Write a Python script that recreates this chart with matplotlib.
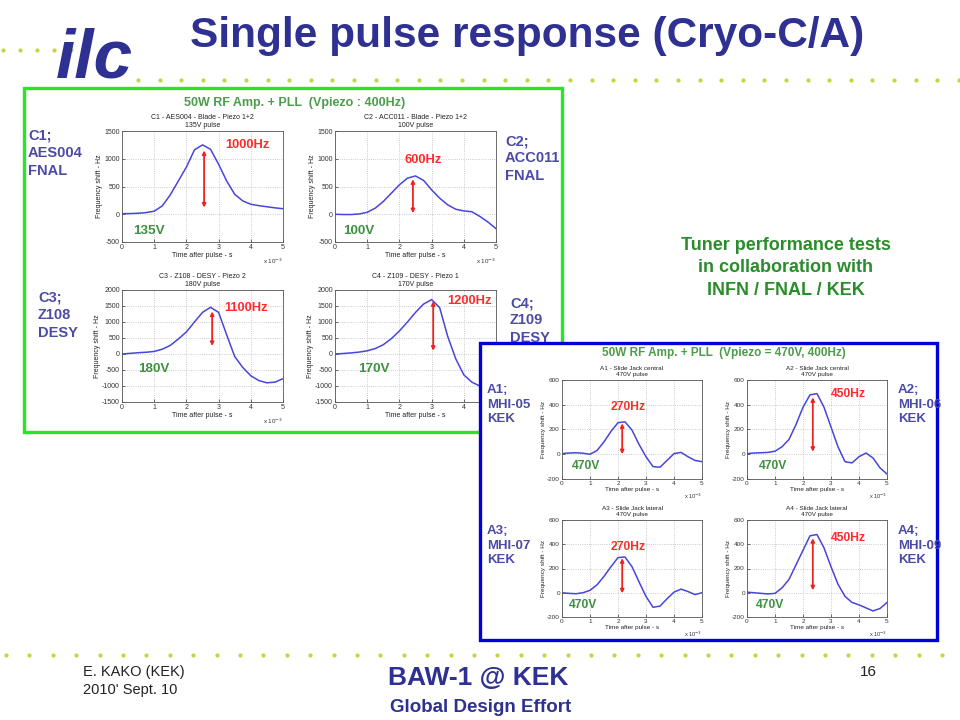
import matplotlib
matplotlib.use("Agg")
import matplotlib.pyplot as plt
from matplotlib.patches import Rectangle
import numpy as np

plt.rcParams['font.family'] = ['Liberation Sans', 'DejaVu Sans']
plt.rcParams['axes.unicode_minus'] = False

# ---------------- data ----------------
t_ms = [0.0, 0.25, 0.5, 0.75, 1.0, 1.25, 1.5, 1.75, 2.0, 2.25, 2.5,
        2.75, 3.0, 3.25, 3.5, 3.75, 4.0, 4.25, 4.5, 4.75, 5.0]

c1 = [10, 12, 18, 30, 55, 150, 350, 600, 850, 1160, 1250, 1170, 900, 600, 360, 240, 180, 155, 135, 115, 100]
c2 = [0, -5, -5, 5, 35, 110, 230, 380, 530, 650, 690, 610, 440, 290, 170, 90, 60, 45, -40, -140, -260]
c3 = [0, 20, 40, 55, 80, 150, 270, 470, 690, 1000, 1300, 1460, 1300, 600, -80, -420, -680, -830, -900, -880, -770]
c4 = [0, 15, 35, 60, 100, 170, 290, 480, 720, 1000, 1300, 1560, 1700, 1450, 550, -150, -650, -880, -1000, -1050, -1060]
a1 = [5, 10, 12, 8, 0, 30, 100, 185, 255, 262, 195, 80, -20, -100, -105, -50, 5, 15, -20, -50, -60]
a2 = [5, 10, 12, 15, 25, 60, 120, 240, 380, 480, 490, 380, 220, 60, -60, -70, -20, 10, -30, -110, -160]
a3 = [0, -5, -8, 0, 20, 65, 135, 215, 290, 295, 215, 90, -30, -120, -110, -50, 5, 30, 10, -15, 0]
a4 = [5, 0, -5, -10, -5, 40, 110, 230, 350, 470, 480, 370, 215, 70, -30, -80, -100, -125, -150, -130, -80]

series = [c1, c2, c3, c4, a1, a2, a3, a4]
titles = ["C1 - AES004 - Blade - Piezo 1+2\n135V pulse",
          "C2 - ACC011 - Blade - Piezo 1+2\n100V pulse",
          "C3 - Z108 - DESY - Piezo 2\n180V pulse",
          "C4 - Z109 - DESY - Piezo 1\n170V pulse",
          "A1 - Slide Jack central\n470V pulse",
          "A2 - Slide Jack central\n470V pulse",
          "A3 - Slide Jack lateral\n470V pulse",
          "A4 - Slide Jack lateral\n470V pulse"]
yticks_c12 = [-500, 0, 500, 1000, 1500]
yticks_c34 = [-1500, -1000, -500, 0, 500, 1000, 1500, 2000]
yticks_a = [-200, 0, 200, 400, 600]
yticks = [yticks_c12, yticks_c12, yticks_c34, yticks_c34, yticks_a, yticks_a, yticks_a, yticks_a]
xticks = [0, 1, 2, 3, 4, 5]

# arrow: x, top, bottom
arrows = [(2.55, 1150, 120), (2.42, 630, 20), (2.8, 1330, 250), (3.05, 1650, 100),
          (2.15, 250, 0), (2.35, 460, 20), (2.15, 285, -5), (2.35, 450, 20)]
shift_labels = ["1000Hz", "600Hz", "1100Hz", "1200Hz", "270Hz", "450Hz", "270Hz", "450Hz"]
shift_pos = [(3.2, 1250), (2.17, 975), (3.17, 1440), (3.5, 1650),
             (1.72, 382), (2.98, 490), (1.72, 380), (2.98, 450)]
volt_labels = ["135V", "100V", "180V", "170V", "470V", "470V", "470V", "470V"]
volt_pos = [(0.36, -310), (0.26, -310), (0.5, -480), (0.73, -480),
            (0.36, -95), (0.42, -95), (0.24, -100), (0.3, -100)]

cav_labels = ["C1;\nAES004\nFNAL", "C2;\nACC011\nFNAL", "C3;\nZ108\nDESY", "C4;\nZ109\nDESY",
              "A1;\nMHI-05\nKEK", "A2;\nMHI-06\nKEK", "A3;\nMHI-07\nKEK", "A4;\nMHI-09\nKEK"]

# ---------------- layout (pixels) ----------------
W, H = 960, 720
fig = plt.figure(figsize=(9.6, 7.2), dpi=100)
fig.patch.set_facecolor('white')

def px_axes(x0, y0, x1, y1, z):
    return fig.add_axes([x0 / W, 1 - y1 / H, (x1 - x0) / W, (y1 - y0) / H], zorder=z)

ax_bg = fig.add_axes([0, 0, 1, 1], zorder=0)
ax_bg.set_xlim(0, W); ax_bg.set_ylim(H, 0); ax_bg.axis('off')

ax_bl = fig.add_axes([0, 0, 1, 1], zorder=2)
ax_bl.set_xlim(0, W); ax_bl.set_ylim(H, 0); ax_bl.axis('off')
ax_bl.patch.set_alpha(0)

navy = '#2E3192'
dot_col = '#C4D63C'
green_txt = '#3E9140'
red_txt = '#FF2A2A'
lab_col = '#4B4BA6'

# decorative dots
xl = np.arange(3, 105, 17)
ax_bg.scatter(xl, np.full(len(xl), 50), s=9, color=dot_col, lw=0)
xs = np.arange(138, 962, 21.6)
ax_bg.scatter(xs, np.full(len(xs), 80), s=9, color=dot_col, lw=0)
xs2 = np.arange(6, 962, 23.4)
ax_bg.scatter(xs2, np.full(len(xs2), 655), s=9, color=dot_col, lw=0)

# logo and title
ax_bg.text(94, 78, "ilc", fontsize=50, fontweight='bold', style='italic', color=navy,
           ha='center', va='baseline')
ax_bg.text(527, 36, "Single pulse response (Cryo-C/A)", fontsize=30.5, fontweight='bold',
           color=navy, ha='center', va='center')

# footer
ax_bg.text(83, 672, "E. KAKO (KEK)", fontsize=10.5, color='#222222', ha='left', va='center')
ax_bg.text(83, 690, "2010' Sept. 10", fontsize=10.5, color='#222222', ha='left', va='center')
ax_bg.text(478, 678, "BAW-1 @ KEK", fontsize=19, fontweight='bold', color=navy, ha='center', va='center')
ax_bg.text(481, 707, "Global Design Effort", fontsize=13.5, fontweight='bold', color=navy, ha='center', va='center')
ax_bg.text(868, 672, "16", fontsize=11, color='#222222', ha='center', va='center')

# right text
ax_bg.text(786, 268, "Tuner performance tests\nin collaboration with\nINFN / FNAL / KEK",
           fontsize=13, fontweight='bold', color='#2A8C2A', ha='center', va='center', linespacing=1.45)

# green panel
green_rect = Rectangle((24, 88), 538, 344, facecolor='white', edgecolor='#26E626', lw=2.4)
ax_bg.add_patch(green_rect)
ax_bg.text(295, 103, "50W RF Amp. + PLL  (Vpiezo : 400Hz)", fontsize=9, fontweight='bold',
           color='#4C9C4C', ha='center', va='center')

# blue panel
blue_rect = Rectangle((480, 343), 457, 297, facecolor='white', edgecolor='#0000DC', lw=2.4)
ax_bl.add_patch(blue_rect)
ax_bl.text(724, 353, "50W RF Amp. + PLL  (Vpiezo = 470V, 400Hz)", fontsize=8.5, fontweight='bold',
           color='#4C9C4C', ha='center', va='center')

# cavity labels
lab_pos = [(28, 129), (505, 134), (38, 291), (510, 296),
           (487, 384), (898, 384), (487, 525), (898, 525)]
for i, (lab, (lx, ly)) in enumerate(zip(cav_labels, lab_pos)):
    tgt = ax_bg if i < 4 else ax_bl
    fs = 10.5 if i < 4 else 9.5
    tx = tgt.text(lx, ly, lab, fontsize=fs, fontweight='bold', color=lab_col,
                  ha='left', va='top', linespacing=1.3)
    tx.set_clip_path(green_rect if i < 4 else blue_rect)

# axes boxes (pixels)
boxes = [(122, 131, 283, 242), (335, 131, 496, 242),
         (122, 290, 283, 402), (335, 290, 496, 402),
         (562, 380, 702, 479), (747, 380, 887, 479),
         (562, 520, 702, 617), (747, 520, 887, 617)]

for i, (box, y) in enumerate(zip(boxes, series)):
    z = 1 if i < 4 else 3
    ax = px_axes(*box, z)
    small = i >= 4
    fs = 4.6 if small else 5
    ax.plot(t_ms, y, color='#4646DC', lw=1.1, solid_joinstyle='round')
    ax.set_xlim(0, 5)
    ax.set_ylim(yticks[i][0], yticks[i][-1])
    ax.set_xticks(xticks)
    ax.set_yticks(yticks[i])
    ax.grid(True, linestyle=':', color='#BBBBBB', lw=0.6)
    ax.tick_params(direction='in', length=2, width=0.5, labelsize=fs, pad=1.5, colors='#333333')
    for sp in ax.spines.values():
        sp.set_linewidth(0.6)
        sp.set_color('#555555')
    ax.set_title(titles[i], fontsize=fs, pad=3, linespacing=1.2, color='#222222')
    ax.set_xlabel("Time after pulse - s", fontsize=fs, labelpad=1, color='#222222')
    ax.set_ylabel("Frequency shift - Hz", fontsize=fs, labelpad=1, color='#222222')
    hidden = (i == 3)  # lower-right corner of C4 lies under the KEK panel
    if hidden:
        ax.set_xticklabels(['0', '1', '2', '3', '4', ''])
    else:
        ax.text(1.0, -0.13, "x 10$^{-3}$", transform=ax.transAxes, fontsize=fs - 0.5,
                ha='right', va='top', color='#333333')
    ax_x, top, bot = arrows[i]
    ax.annotate('', xy=(ax_x, top), xytext=(ax_x, bot),
                arrowprops=dict(arrowstyle='<|-|>', color='#EE2222', lw=1.3,
                                mutation_scale=5, shrinkA=0, shrinkB=0))
    sx, sy = shift_pos[i]
    ax.text(sx, sy, shift_labels[i], fontsize=8.7 if small else 9.3, fontweight='bold',
            color=red_txt, ha='left', va='center')
    vx, vy = volt_pos[i]
    ax.text(vx, vy, volt_labels[i], fontsize=8.7 if small else 9.7, fontweight='bold',
            color=green_txt, ha='left', va='center')

fig.savefig("out.png", dpi=100, facecolor='white')
